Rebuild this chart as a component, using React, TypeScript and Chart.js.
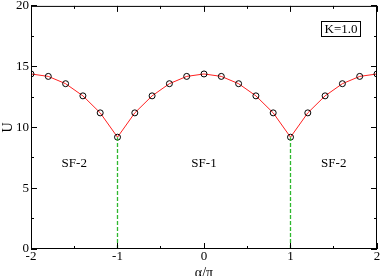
import React, { useEffect, useRef } from "react";
import { Chart, registerables } from "chart.js";

Chart.register(...registerables);

const alphaOverPi = [-2, -1.8, -1.6, -1.4, -1.2, -1, -0.8, -0.6, -0.4, -0.2, 0, 0.2, 0.4, 0.6, 0.8, 1, 1.2, 1.4, 1.6, 1.8, 2];
const uValues = [14.4, 14.2, 13.6, 12.6, 11.2, 9.2, 11.2, 12.6, 13.6, 14.2, 14.4, 14.2, 13.6, 12.6, 11.2, 9.2, 11.2, 12.6, 13.6, 14.2, 14.4];
const boundaryX = [-1, 1];
const boundaryU = [9.2, 9.2];
const phaseLabels = ["SF-2", "SF-1", "SF-2"];
const phaseX = [-1.5, 0, 1.5];
const phaseY = [7, 7, 7];
const legendText = "K=1.0";
const xTicks = [-2, -1, 0, 1, 2];
const yTicks = [0, 5, 10, 15, 20];

const FONT = "'Liberation Serif', 'DejaVu Serif', serif";
const GREEN = "#2eb82e";

const framePlugin = {
  id: "frame",
  afterDatasetsDraw(chart: any) {
    const ctx = chart.ctx;
    const { left, right, top, bottom } = chart.chartArea;
    const xs = chart.scales.x;
    const ys = chart.scales.y;
    ctx.save();
    ctx.strokeStyle = "#000";
    ctx.lineWidth = 1;
    ctx.strokeRect(left + 0.5, top + 0.5, right - left - 1, bottom - top - 1);
    ctx.beginPath();
    const major = 6, minor = 3;
    for (let v = -2; v <= 2.0001; v += 0.5) {
      const px = Math.round(xs.getPixelForValue(v) - 0.5) + 0.5;
      const len = Math.abs(v - Math.round(v)) < 1e-6 ? major : minor;
      ctx.moveTo(px, bottom); ctx.lineTo(px, bottom - len);
      ctx.moveTo(px, top); ctx.lineTo(px, top + len);
    }
    for (let v = 0; v <= 20.0001; v += 2.5) {
      const py = Math.round(ys.getPixelForValue(v) - 0.5) + 0.5;
      const len = Math.abs(v / 5 - Math.round(v / 5)) < 1e-6 ? major : minor;
      ctx.moveTo(left, py); ctx.lineTo(left + len, py);
      ctx.moveTo(right, py); ctx.lineTo(right - len, py);
    }
    ctx.stroke();

    ctx.fillStyle = "#000";
    ctx.font = "13px " + FONT;
    ctx.textAlign = "center";
    ctx.textBaseline = "middle";
    phaseLabels.forEach((t, i) => {
      ctx.fillText(t, xs.getPixelForValue(phaseX[i]), ys.getPixelForValue(phaseY[i]));
    });

    // legend box
    const bx = 321, by = 21, bw = 39, bh = 15;
    ctx.strokeRect(bx + 0.5, by + 0.5, bw, bh);
    ctx.fillText(legendText, bx + bw / 2 + 0.5, by + bh / 2 + 1);
    ctx.restore();
  },
};

export default function App() {
  const ref = useRef<HTMLCanvasElement>(null);
  useEffect(() => {
    document.body.style.margin = "0";
    const boundarySets = boundaryX.map((x, i) => ({
      data: [{ x, y: 0 }, { x, y: boundaryU[i] }],
      showLine: true,
      borderColor: GREEN,
      borderWidth: 1.3,
      borderDash: [4, 2],
      pointRadius: 0,
    }));
    const chart = new Chart(ref.current!, {
      type: "scatter",
      data: {
        datasets: [
          ...boundarySets,
          {
            data: alphaOverPi.map((x, i) => ({ x, y: uValues[i] })),
            showLine: true,
            borderColor: "#ff2020",
            borderWidth: 1,
            pointRadius: 3,
            pointBorderColor: "#000",
            pointBackgroundColor: "rgba(0,0,0,0)",
            pointBorderWidth: 1,
          },
        ],
      },
      options: {
        animation: false,
        responsive: false,
        layout: { padding: { top: 5, right: 5, left: 0, bottom: 0 } },
        plugins: { legend: { display: false }, tooltip: { enabled: false } },
        scales: {
          x: {
            type: "linear",
            min: -2,
            max: 2,
            afterBuildTicks: (s: any) => { s.ticks = xTicks.map((v) => ({ value: v })); },
            afterFit: (s: any) => { s.height = 27; },
            grid: { display: false, drawTicks: false },
            border: { display: false },
            ticks: { font: { family: FONT, size: 13 }, color: "#000", padding: 0, maxRotation: 0, autoSkip: false },
            title: { display: true, text: "α/π", font: { family: FONT, size: 14 }, color: "#000", padding: { top: 0, bottom: -6 } },
          },
          y: {
            type: "linear",
            min: 0,
            max: 20,
            afterBuildTicks: (s: any) => { s.ticks = yTicks.map((v) => ({ value: v })); },
            afterFit: (s: any) => { s.width = 31; },
            grid: { display: false, drawTicks: false },
            border: { display: false },
            ticks: { font: { family: FONT, size: 13, lineHeight: 0.6 }, color: "#000", padding: 2 },
            title: { display: true, text: "U", font: { family: FONT, size: 14 }, color: "#000", padding: { top: 0, bottom: 0 } },
          },
        },
      },
      plugins: [framePlugin],
    } as any);
    return () => chart.destroy();
  }, []);
  return <canvas ref={ref} width={382} height={276} style={{ display: "block" }} />;
}
